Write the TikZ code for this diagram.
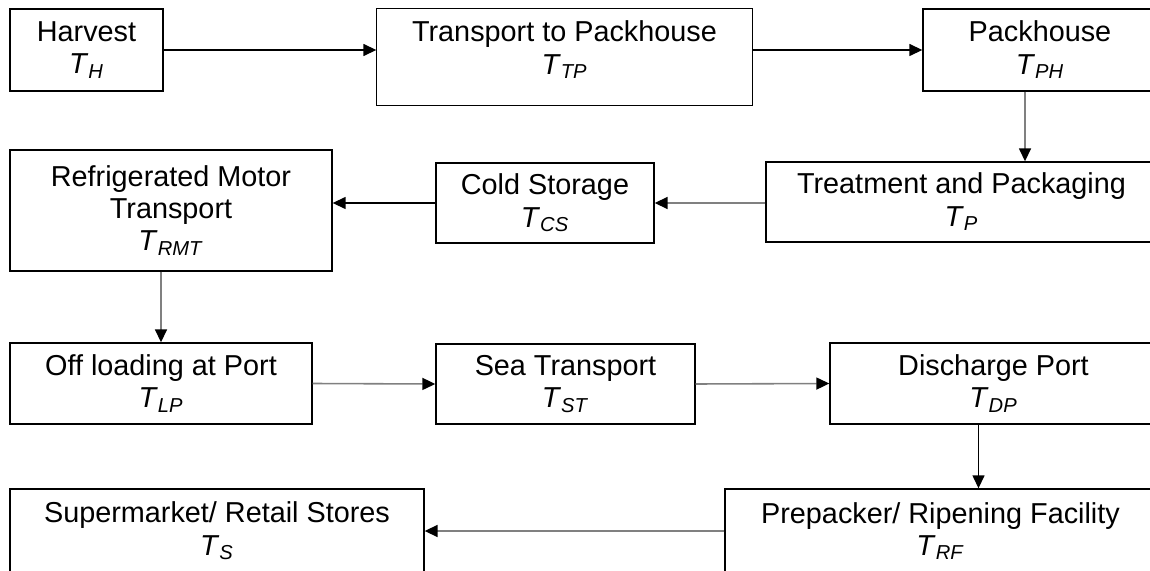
\documentclass[tikz,border=0pt]{standalone}
\usepackage{fontspec}
\setmainfont{Liberation Sans}
\usepackage{tikz}
\usetikzlibrary{arrows.meta}

\newcommand{\tsub}[1]{\textit{T}\textsubscript{\textit{#1}}}

\begin{document}
\begin{tikzpicture}[x=0.02cm,y=-0.02cm,
    stage/.style={draw,line width=0.8pt,align=center,inner sep=0pt,
        font=\fontsize{16.4}{18.4}\selectfont},
    flow/.style={line width=0.8pt,-{Triangle[length=2.6mm,width=2.4mm]}},
    greyflow/.style={line width=0.9pt,draw=black!50,
        -{Triangle[length=2.6mm,width=2.4mm,black]}}]
        % Supply chain stages
        \fill[white] (0,0) rectangle (1150,571);
        \useasboundingbox (0,0) rectangle (1150,571);
        \clip (0,0) rectangle (1150,571);
        \node[stage,minimum width=3.06cm,minimum height=1.64cm] (harvest) at (86.5,50) {Harvest\\ \tsub{H}};
        \node[stage,draw=none,minimum width=7.5cm,minimum height=1.64cm] (ttp) at (564.5,50) {Transport to Packhouse\\ \tsub{TP}};
        \draw[line width=0.8pt] (ttp.north west) rectangle ([yshift=-0.28cm]ttp.south east);
        \node[stage,minimum width=4.68cm,minimum height=1.64cm] (ph) at (1040,50) {Packhouse\\ \tsub{PH}};
        \node[stage,minimum width=7.82cm,minimum height=1.6cm] (tp) at (961.5,202) {Treatment and Packaging\\ \tsub{P}};
        \node[stage,minimum width=4.36cm,minimum height=1.6cm] (cs) at (545,203) {Cold Storage\\ \tsub{CS}};
        \node[stage,minimum width=6.44cm,minimum height=2.42cm] (rmt) at (171,210.5) {Refrigerated Motor\\ Transport\\ \tsub{RMT}};
        \node[stage,minimum width=6.04cm,minimum height=1.62cm] (olp) at (161,383.5) {Off loading at Port\\ \tsub{LP}};
        \node[stage,minimum width=5.18cm,minimum height=1.6cm] (st) at (565.5,384) {Sea Transport\\ \tsub{ST}};
        \node[stage,minimum width=6.54cm,minimum height=1.62cm] (dp) at (993.5,383.5) {Discharge Port\\ \tsub{DP}};
        \node[stage,minimum width=8.62cm,minimum height=1.68cm] (rf) at (940.5,531) {Prepacker/ Ripening Facility\\ \tsub{RF}};
        \node[stage,minimum width=8.28cm,minimum height=1.68cm] (sm) at (217,531) {Supermarket/ Retail Stores\\ \tsub{S}};
        % Connectors
        \draw[flow] (harvest.east) -- (harvest.east -| ttp.west);
        \draw[flow] (ph.west -| ttp.east) -- (ph.west);
        \draw[greyflow] ([xshift=-0.3cm]ph.south) -- ([xshift=-0.3cm]ph.south |- tp.north);
        \draw[greyflow] (cs.east -| tp.west) -- (cs.east);
        \draw[flow] (cs.west) -- (cs.west -| rmt.east);
        \draw[greyflow] (olp.north |- rmt.south) -- (olp.north);
        \draw[greyflow] (olp.east) -- (st.west);
        \draw[greyflow] (st.east) -- (dp.west);
        \draw[flow] ([xshift=-0.3cm]dp.south) -- ([xshift=-0.3cm]dp.south |- rf.north);
        \draw[greyflow] (rf.west) -- (sm.east);
    \end{tikzpicture}
\end{document}
